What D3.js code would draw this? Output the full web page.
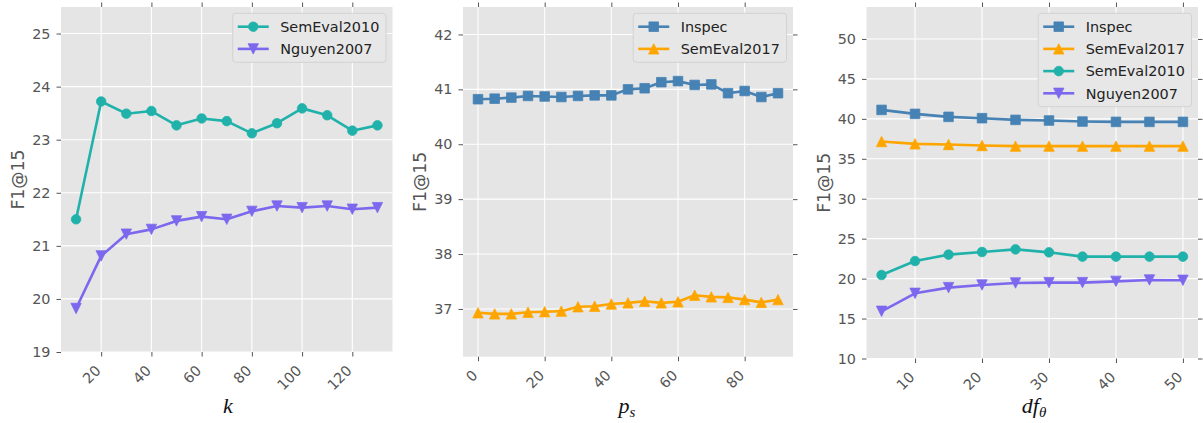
<!DOCTYPE html>
<html><head><meta charset="utf-8">
<script src="https://cdn.jsdelivr.net/npm/d3@7"></script>
<style>body{margin:0;background:#fff} svg{display:block}</style>
</head><body>
<svg id="chart" width="1203" height="423"></svg>
<script>
// ---------- data ----------
const kValues = [10, 20, 30, 40, 50, 60, 70, 80, 90, 100, 110, 120, 130];
const semeval2010_k = [21.50, 23.72, 23.49, 23.54, 23.27, 23.40, 23.35, 23.12, 23.31, 23.59, 23.46, 23.17, 23.27];
const nguyen2007_k = [19.82, 20.81, 21.22, 21.31, 21.47, 21.55, 21.50, 21.65, 21.75, 21.72, 21.75, 21.69, 21.72];
const kXTicks = [20, 40, 60, 80, 100, 120];
const kYTicks = [19, 20, 21, 22, 23, 24, 25];

const psValues = [0, 5, 10, 15, 20, 25, 30, 35, 40, 45, 50, 55, 60, 65, 70, 75, 80, 85, 90];
const inspec_ps = [40.82, 40.83, 40.85, 40.88, 40.87, 40.86, 40.88, 40.89, 40.89, 41.00, 41.02, 41.13, 41.15, 41.08, 41.09, 40.93, 40.97, 40.86, 40.93];
const semeval2017_ps = [36.93, 36.91, 36.91, 36.94, 36.95, 36.96, 37.04, 37.05, 37.09, 37.11, 37.14, 37.11, 37.13, 37.25, 37.22, 37.21, 37.17, 37.12, 37.17];
const psXTicks = [0, 20, 40, 60, 80];
const psYTicks = [37, 38, 39, 40, 41, 42];

const dfValues = [5, 10, 15, 20, 25, 30, 35, 40, 45, 50];
const inspec_df = [41.12, 40.62, 40.25, 40.08, 39.87, 39.79, 39.66, 39.62, 39.62, 39.62];
const semeval2017_df = [37.16, 36.87, 36.79, 36.66, 36.58, 36.58, 36.58, 36.58, 36.58, 36.58];
const semeval2010_df = [20.45, 22.20, 23.00, 23.33, 23.66, 23.29, 22.75, 22.75, 22.75, 22.75];
const nguyen2007_df = [15.91, 18.16, 18.87, 19.20, 19.45, 19.50, 19.50, 19.66, 19.83, 19.79];
const dfXTicks = [10, 20, 30, 40, 50];
const dfYTicks = [10, 15, 20, 25, 30, 35, 40, 45, 50];

const yLabel = "F1@15";

// ---------- styles ----------
const COLORS = {Inspec: "#4682B4", SemEval2017: "#FFA500", SemEval2010: "#20B2AA", Nguyen2007: "#7B68EE"};
const MARKERS = {Inspec: "square", SemEval2017: "triUp", SemEval2010: "circle", Nguyen2007: "triDown"};

const panels = [
  {left: 61, right: 392.5, top: 7, bottom: 352, xDomain: [4, 136], yDomain: [19, 25.5],
   x: kValues, xTicks: kXTicks, yTicks: kYTicks, rightTicks: false, xlab: [["k", false]], xlabX: 228,
   series: [["SemEval2010", semeval2010_k], ["Nguyen2007", nguyen2007_k]]},
  {left: 463, right: 793, top: 7, bottom: 356.7, xDomain: [-4.5, 94.5], yDomain: [36.13, 42.5],
   x: psValues, xTicks: psXTicks, yTicks: psYTicks, rightTicks: true, xlab: [["p", false], ["s", true]], xlabX: 627,
   series: [["Inspec", inspec_ps], ["SemEval2017", semeval2017_ps]]},
  {left: 866.5, right: 1198, top: 7, bottom: 358.5, xDomain: [2.75, 52.25], yDomain: [10, 54],
   x: dfValues, xTicks: dfXTicks, yTicks: dfYTicks, rightTicks: true, xlab: [["df", false], ["θ", true]], xlabX: 1034,
   series: [["Inspec", inspec_df], ["SemEval2017", semeval2017_df], ["SemEval2010", semeval2010_df], ["Nguyen2007", nguyen2007_df]]}
];

const svg = d3.select("#chart");
const TICKC = "#555555";
const FS = 14.4;

function markerPath(type, s) {
  const h = s / 2;
  if (type === "square") return `M${-h},${-h}H${h}V${h}H${-h}Z`;
  if (type === "triUp") return `M0,${-h}L${h},${h}L${-h},${h}Z`;
  if (type === "triDown") return `M0,${h}L${h},${-h}L${-h},${-h}Z`;
  const r = h;
  return `M${r},0A${r},${r} 0 1,1 ${-r},0A${r},${r} 0 1,1 ${r},0Z`;
}
function markerSize(type) {
  if (type === "circle") return 9.6;
  if (type === "square") return 9.6;
  return 10.4;
}

panels.forEach(p => {
  const xs = d3.scaleLinear().domain(p.xDomain).range([p.left, p.right]);
  const ys = d3.scaleLinear().domain(p.yDomain).range([p.bottom, p.top]);
  const g = svg.append("g");

  // background
  g.append("rect").attr("x", p.left).attr("y", p.top)
    .attr("width", p.right - p.left).attr("height", p.bottom - p.top).attr("fill", "#E5E5E5");

  // grid
  g.selectAll(".gx").data(p.xTicks).join("line")
    .attr("x1", d => xs(d)).attr("x2", d => xs(d)).attr("y1", p.top).attr("y2", p.bottom)
    .attr("stroke", "#fff").attr("stroke-width", 1.1);
  g.selectAll(".gy").data(p.yTicks).join("line")
    .attr("x1", p.left).attr("x2", p.right).attr("y1", d => ys(d)).attr("y2", d => ys(d))
    .attr("stroke", "#fff").attr("stroke-width", 1.1);

  // axes via d3
  const TL = 4.5, PAD = 6;
  const axB = d3.axisBottom(xs).tickValues(p.xTicks).tickSize(TL).tickPadding(PAD).tickFormat(d3.format("d"));
  const gb = g.append("g").attr("transform", `translate(0,${p.bottom})`).call(axB);
  gb.select(".domain").remove();
  gb.selectAll(".tick line").attr("stroke", TICKC).attr("stroke-width", 1);
  gb.selectAll(".tick text").attr("fill", TICKC).attr("font-size", FS).attr("font-family", "DejaVu Sans")
    .attr("text-anchor", "end").attr("dy", null).attr("y", null)
    .attr("transform", "translate(0,19.5) rotate(-45)");

  const axT = d3.axisTop(xs).tickValues(p.xTicks).tickSize(TL).tickFormat("");
  const gt = g.append("g").attr("transform", `translate(0,${p.top})`).call(axT);
  gt.select(".domain").remove();
  gt.selectAll(".tick line").attr("stroke", TICKC).attr("stroke-width", 1);

  const axL = d3.axisLeft(ys).tickValues(p.yTicks).tickSize(TL).tickPadding(PAD).tickFormat(d3.format("d"));
  const gl = g.append("g").attr("transform", `translate(${p.left},0)`).call(axL);
  gl.select(".domain").remove();
  gl.selectAll(".tick line").attr("stroke", TICKC).attr("stroke-width", 1);
  gl.selectAll(".tick text").attr("fill", TICKC).attr("font-size", FS).attr("font-family", "DejaVu Sans");

  if (p.rightTicks) {
    const axR = d3.axisRight(ys).tickValues(p.yTicks).tickSize(TL).tickFormat("");
    const gr = g.append("g").attr("transform", `translate(${p.right},0)`).call(axR);
    gr.select(".domain").remove();
    gr.selectAll(".tick line").attr("stroke", TICKC).attr("stroke-width", 1);
  }

  // y label
  g.append("text").attr("transform", `translate(${p.left - 37},${(p.top + p.bottom) / 2}) rotate(-90)`)
    .attr("text-anchor", "middle").attr("font-family", "DejaVu Sans").attr("font-size", 17.3)
    .attr("fill", TICKC).text(yLabel);

  // x label
  const xl = g.append("text").attr("x", p.xlabX).attr("y", 413).attr("text-anchor", "middle")
    .attr("font-family", "Liberation Serif").attr("font-style", "italic").attr("font-size", 22).attr("fill", "#111");
  p.xlab.forEach(([t, sub]) => {
    const ts = xl.append("tspan").text(t);
    if (sub) ts.attr("font-size", 15).attr("dy", 4);
  });

  // series
  const line = d3.line().x((d, i) => xs(p.x[i])).y(d => ys(d));
  p.series.forEach(([name, vals]) => {
    const c = COLORS[name], m = MARKERS[name];
    g.append("path").attr("d", line(vals)).attr("fill", "none").attr("stroke", c)
      .attr("stroke-width", 2.6).attr("stroke-linejoin", "round");
    g.selectAll(null).data(vals).join("path")
      .attr("transform", (d, i) => `translate(${xs(p.x[i])},${ys(d)})`)
      .attr("d", markerPath(m, markerSize(m))).attr("fill", c)
      .attr("stroke", c).attr("stroke-width", 1).attr("stroke-opacity", 0.75);
  });

  // legend
  const lg = g.append("g");
  const rowH = 22.2, n = p.series.length;
  const box = lg.append("rect");
  const texts = p.series.map(([name], i) => lg.append("text").attr("font-family", "DejaVu Sans")
    .attr("font-size", FS).attr("fill", "#222").text(name));
  const maxW = d3.max(texts, t => t.node().getComputedTextLength());
  const boxW = 5 + 31 + 11.5 + maxW + 6.7;
  const boxX = p.right - 6.5 - boxW, boxY = p.top + 6.3, boxH = 26.8 + (n - 1) * rowH;
  box.attr("x", boxX).attr("y", boxY).attr("width", boxW).attr("height", boxH)
    .attr("rx", 3).attr("fill", "#E7E7E7").attr("stroke", "#D2D2D2").attr("stroke-width", 1);
  p.series.forEach(([name], i) => {
    const cy = boxY + 13.4 + i * rowH, c = COLORS[name], m = MARKERS[name];
    const x0 = boxX + 5, x1 = x0 + 31;
    lg.append("line").attr("x1", x0).attr("x2", x1).attr("y1", cy).attr("y2", cy)
      .attr("stroke", c).attr("stroke-width", 2.6);
    lg.append("path").attr("transform", `translate(${(x0 + x1) / 2},${cy})`)
      .attr("d", markerPath(m, markerSize(m))).attr("fill", c).attr("stroke", c).attr("stroke-width", 1).attr("stroke-opacity", 0.75);
    texts[i].attr("x", x1 + 11.5).attr("y", cy + 5.2);
  });
});
</script>
</body></html>
